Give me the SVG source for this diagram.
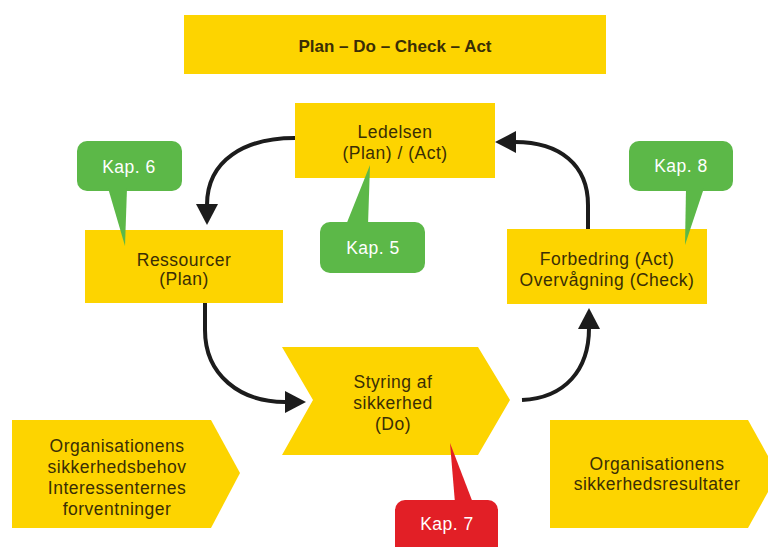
<svg xmlns="http://www.w3.org/2000/svg" width="768" height="547" viewBox="0 0 768 547">
<style>
.box{fill:#fdd400}
.t{font-family:"Liberation Sans",Arial,sans-serif;font-size:17.5px;letter-spacing:0.5px;fill:#3a2e05;text-anchor:middle}
.b{font-weight:bold;font-size:17px;letter-spacing:0}
.g{fill:#5cb848}
.r{fill:#e21f26}
.w{font-family:"Liberation Sans",Arial,sans-serif;font-size:17.5px;letter-spacing:0.5px;fill:#ffffff;text-anchor:middle}
.c{fill:none;stroke:#1c1c1c;stroke-width:4}
.h{fill:#1c1c1c}
</style>
<rect width="768" height="547" fill="#ffffff"/>
<g id="title">
<rect class="box" x="184" y="15" width="422" height="59"/>
<text class="t b" x="395" y="52">Plan – Do – Check – Act</text>
</g>
<g id="connectors">
<path class="c" d="M295,138 C245,138 207,160 207,205"/>
<polygon class="h" points="196,204 218,204 207,225"/>
<path class="c" d="M205,303 L205,330 C205,375 240,402 285,402"/>
<polygon class="h" points="285,391 285,413 306,402"/>
<path class="c" d="M522,400 C565,398 589,370 589,328"/>
<polygon class="h" points="578,329 600,329 589,308"/>
<path class="c" d="M588,229 L588,205 C588,165 560,142 515,142"/>
<polygon class="h" points="516,131 516,153 495,142"/>
</g>
<g id="ledelsen">
<rect class="box" x="295" y="103" width="200" height="75"/>
<text class="t" x="395" y="138">Ledelsen</text>
<text class="t" x="395" y="159">(Plan) / (Act)</text>
</g>
<g id="ressourcer">
<rect class="box" x="85" y="230" width="198" height="73"/>
<text class="t" x="184" y="266">Ressourcer</text>
<text class="t" x="184" y="285">(Plan)</text>
</g>
<g id="forbedring">
<rect class="box" x="507" y="229" width="200" height="75"/>
<text class="t" x="607" y="265">Forbedring (Act)</text>
<text class="t" x="607" y="286">Overvågning (Check)</text>
</g>
<g id="styring">
<polygon class="box" points="282,347 478,347 510,400 478,455 282,455 313,400"/>
<text class="t" x="393" y="388">Styring af</text>
<text class="t" x="393" y="409">sikkerhed</text>
<text class="t" x="393" y="430">(Do)</text>
</g>
<g id="behov">
<polygon class="box" points="12,420 211,420 240,473 211,528 12,528"/>
<text class="t" x="117" y="452">Organisationens</text>
<text class="t" x="117" y="473">sikkerhedsbehov</text>
<text class="t" x="117" y="494">Interessenternes</text>
<text class="t" x="117" y="515">forventninger</text>
</g>
<g id="resultater">
<polygon class="box" points="550,420 748,420 778,474 748,528 550,528"/>
<text class="t" x="657" y="470">Organisationens</text>
<text class="t" x="657" y="490">sikkerhedsresultater</text>
</g>
<g id="kap6">
<rect class="g" x="77" y="141" width="105" height="50" rx="10"/>
<polygon class="g" points="108,188 127,188 125,246"/>
<text class="w" x="129" y="173">Kap. 6</text>
</g>
<g id="kap5">
<rect class="g" x="320" y="222" width="105" height="51" rx="10"/>
<polygon class="g" points="346,225 368,225 370,165"/>
<text class="w" x="373" y="254">Kap. 5</text>
</g>
<g id="kap8">
<rect class="g" x="629" y="141" width="104" height="50" rx="10"/>
<polygon class="g" points="686,188 704,188 685,245"/>
<text class="w" x="681" y="172">Kap. 8</text>
</g>
<g id="kap7">
<rect class="r" x="395" y="500" width="103" height="60" rx="10"/>
<polygon class="r" points="450,443 455,503 473,503"/>
<text class="w" x="447" y="530">Kap. 7</text>
</g>
</svg>
